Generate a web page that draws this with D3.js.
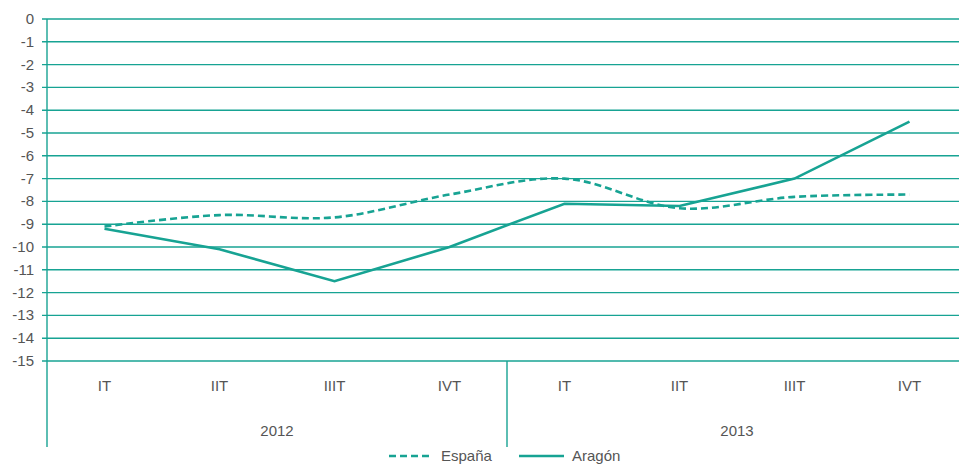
<!DOCTYPE html>
<html lang="es">
<head>
<meta charset="utf-8">
<title>España / Aragón</title>
<script src="https://cdn.jsdelivr.net/npm/d3@7"></script>
<style>
  body { margin: 0; background: #fff; }
  text { font-family: "Liberation Sans", Arial, sans-serif; fill: #555; }
</style>
</head>
<body>
<script>
var quarters = ["IT", "IIT", "IIIT", "IVT", "IT", "IIT", "IIIT", "IVT"];
var years = ["2012", "2013"];
var espana = [-9.1, -8.6, -8.7, -7.7, -7.0, -8.3, -7.8, -7.7];
var aragon = [-9.2, -10.1, -11.5, -10.0, -8.1, -8.2, -7.0, -4.5];
var yTicks = d3.range(0, -16, -1);

var teal = "#17a393";
var width = 959, height = 465;
var plotLeft = 47, plotTop = 19, plotW = 920, plotH = 342;

var svg = d3.select("body").append("svg")
  .attr("width", width)
  .attr("height", height);

var x = d3.scaleBand().domain(d3.range(quarters.length)).range([plotLeft, plotLeft + plotW]);
var y = d3.scaleLinear().domain([0, -15]).range([plotTop, plotTop + plotH]);

// grid lines + y labels
svg.append("g").selectAll("line")
  .data(yTicks).enter().append("line")
  .attr("x1", plotLeft - 5).attr("x2", width)
  .attr("y1", d => y(d)).attr("y2", d => y(d))
  .style("stroke", teal).style("stroke-width", 1.4);

svg.append("g").selectAll("text")
  .data(yTicks).enter().append("text")
  .attr("x", 34).attr("y", d => y(d) + 5)
  .attr("text-anchor", "end")
  .style("font-size", "15px")
  .text(d => d);

// vertical axis and year separator
svg.append("line")
  .attr("x1", plotLeft).attr("x2", plotLeft)
  .attr("y1", plotTop).attr("y2", 447)
  .style("stroke", teal).style("stroke-width", 1.4);
svg.append("line")
  .attr("x1", x(4)).attr("x2", x(4))
  .attr("y1", plotTop + plotH).attr("y2", 447)
  .style("stroke", teal).style("stroke-width", 1.4);

// category labels
svg.append("g").selectAll("text")
  .data(quarters).enter().append("text")
  .attr("x", (d, i) => x(i) + x.bandwidth() / 2)
  .attr("y", 391)
  .attr("text-anchor", "middle")
  .style("font-size", "15px")
  .text(d => d);

svg.append("g").selectAll("text")
  .data(years).enter().append("text")
  .attr("x", (d, i) => x(i * 4) + x.bandwidth() * 2)
  .attr("y", 436)
  .attr("text-anchor", "middle")
  .style("font-size", "15px")
  .text(d => d);

// series
var cx = (d, i) => x(i) + x.bandwidth() / 2;

svg.append("path")
  .datum(espana)
  .attr("d", d3.line().x(cx).y(d => y(d)).curve(d3.curveCatmullRom.alpha(0.5)))
  .style("fill", "none").style("stroke", teal)
  .style("stroke-width", 2.6).style("stroke-dasharray", "7,4");

svg.append("path")
  .datum(aragon)
  .attr("d", d3.line().x(cx).y(d => y(d)))
  .style("fill", "none").style("stroke", teal)
  .style("stroke-width", 2.6);

// legend
var leg = svg.append("g").attr("transform", "translate(0,456)");
leg.append("line").attr("x1", 389).attr("x2", 433).attr("y1", 0).attr("y2", 0)
  .style("stroke", teal).style("stroke-width", 2.6).style("stroke-dasharray", "7,4");
leg.append("text").attr("x", 441).attr("y", 5).style("font-size", "15px").text("España");
leg.append("line").attr("x1", 519).attr("x2", 564).attr("y1", 0).attr("y2", 0)
  .style("stroke", teal).style("stroke-width", 2.6);
leg.append("text").attr("x", 572).attr("y", 5).style("font-size", "15px").text("Aragón");
</script>
</body>
</html>
